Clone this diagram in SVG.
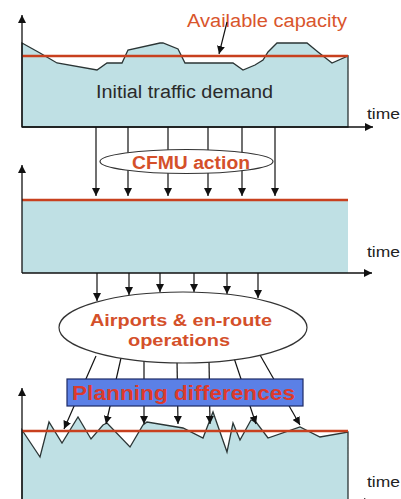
<svg xmlns="http://www.w3.org/2000/svg" width="401" height="499" viewBox="0 0 401 499">
<style>
.fill{fill:#bfe0e4}
.axis{stroke:#111;stroke-width:1.3;fill:none}
.cap{stroke:#c8401e;stroke-width:2.5}
.curve{stroke:#2b3535;stroke-width:1.3;fill:#bfe0e4;stroke-linejoin:miter}
.conn{stroke:#111;stroke-width:1.2;fill:none}
.lbl{font-family:"Liberation Sans",Arial,sans-serif}
.orange{fill:#d4502a;font-weight:bold}
.time{font-family:"Liberation Sans",Arial,sans-serif;font-size:15px;fill:#222}
</style>
<defs>
<marker id="ah" viewBox="0 0 10 10" refX="10" refY="5" markerWidth="8" markerHeight="8" markerUnits="userSpaceOnUse" orient="auto">
<path d="M0,0 L10,5 L0,10 Z" fill="#111"/>
</marker>
</defs>
<rect width="401" height="499" fill="#fff"/>

<g id="panel1">
<path class="curve" d="M22,43 L40,53 L57,63 L97,70 L107,63 L122,63 L128,50 L160,43 L163,43 L178,49 L185,63 L233,63 L243,70 L255,65 L263,60 L268,52 L277,43 L307,43 L318,52 L332,63 L348,56 L348,127 L22,127 Z"/>
<line class="cap" x1="22" y1="56" x2="348" y2="56"/>
<line class="axis" x1="22" y1="127" x2="22" y2="15" marker-end="url(#ah)"/>
<line class="axis" x1="22" y1="127" x2="373" y2="127" marker-end="url(#ah)"/>
<text class="lbl" x="96" y="98" font-size="18" fill="#2a2a2a" textLength="177" lengthAdjust="spacingAndGlyphs">Initial traffic demand</text>
<text class="lbl" x="187" y="27" font-size="18" fill="#d9552c" textLength="160" lengthAdjust="spacingAndGlyphs">Available capacity</text>
<text class="time" x="367" y="119" textLength="33" lengthAdjust="spacingAndGlyphs">time</text>
</g>

<g id="panel2">
<rect class="fill" x="22" y="200" width="326" height="73"/>
<line class="cap" x1="22" y1="200" x2="348" y2="200"/>
<line class="axis" x1="22" y1="273" x2="22" y2="165" marker-end="url(#ah)"/>
<line class="axis" x1="22" y1="273" x2="372" y2="273" marker-end="url(#ah)"/>
<text class="time" x="367" y="257" textLength="33" lengthAdjust="spacingAndGlyphs">time</text>
</g>

<g id="panel3">
<path class="curve" d="M22,430 L40,457 L49,422 L62,443 L78,417 L91,439 L103,425 L107,423 L130,447 L143,425 L147,422 L183,428 L203,438 L213,412 L227,452 L233,423 L240,440 L251,420 L256,422 L268,438 L300,427 L320,437 L348,432 L348,505 L22,505 Z"/>
<line class="cap" x1="22" y1="431" x2="348" y2="431"/>
<line class="axis" x1="22" y1="505" x2="22" y2="388" marker-end="url(#ah)"/>
<line class="axis" x1="22" y1="502" x2="372" y2="502" marker-end="url(#ah)"/>
<text class="time" x="367" y="487" textLength="33" lengthAdjust="spacingAndGlyphs">time</text>
</g>

<g id="connectors">
<line class="conn" x1="227" y1="22" x2="219" y2="54" marker-end="url(#ah)"/>
<line class="conn" x1="96" y1="127" x2="96" y2="196" marker-end="url(#ah)"/>
<line class="conn" x1="128" y1="127" x2="128" y2="196" marker-end="url(#ah)"/>
<line class="conn" x1="168" y1="127" x2="168" y2="196" marker-end="url(#ah)"/>
<line class="conn" x1="208" y1="127" x2="208" y2="196" marker-end="url(#ah)"/>
<line class="conn" x1="242" y1="127" x2="242" y2="196" marker-end="url(#ah)"/>
<line class="conn" x1="275" y1="127" x2="275" y2="196" marker-end="url(#ah)"/>
<line class="conn" x1="97" y1="273" x2="97" y2="301" marker-end="url(#ah)"/>
<line class="conn" x1="129" y1="273" x2="129" y2="295" marker-end="url(#ah)"/>
<line class="conn" x1="160" y1="273" x2="160" y2="292" marker-end="url(#ah)"/>
<line class="conn" x1="194" y1="273" x2="194" y2="292" marker-end="url(#ah)"/>
<line class="conn" x1="227" y1="273" x2="227" y2="294" marker-end="url(#ah)"/>
<line class="conn" x1="258" y1="273" x2="258" y2="298" marker-end="url(#ah)"/>
<line class="conn" x1="96" y1="356" x2="64" y2="429" marker-end="url(#ah)"/>
<line class="conn" x1="121" y1="358" x2="106" y2="424" marker-end="url(#ah)"/>
<line class="conn" x1="144" y1="360" x2="144" y2="424" marker-end="url(#ah)"/>
<line class="conn" x1="177" y1="360" x2="178" y2="424" marker-end="url(#ah)"/>
<line class="conn" x1="209" y1="360" x2="210" y2="424" marker-end="url(#ah)"/>
<line class="conn" x1="234" y1="358" x2="256" y2="424" marker-end="url(#ah)"/>
<line class="conn" x1="260" y1="355" x2="300" y2="425" marker-end="url(#ah)"/>
</g>

<g id="cfmu">
<ellipse cx="186.5" cy="161.5" rx="86.5" ry="12" fill="#fff" stroke="#333" stroke-width="1.2"/>
<text class="lbl orange" x="132" y="169" font-size="18" textLength="118" lengthAdjust="spacingAndGlyphs">CFMU action</text>
</g>

<g id="airports">
<ellipse cx="183" cy="327.5" rx="124" ry="35.5" fill="#fff" stroke="#333" stroke-width="1.2"/>
<text class="lbl orange" x="90" y="326" font-size="16" textLength="182" lengthAdjust="spacingAndGlyphs">Airports &amp; en-route</text>
<text class="lbl orange" x="128" y="346" font-size="16" textLength="102" lengthAdjust="spacingAndGlyphs">operations</text>
</g>

<g id="planning">
<rect x="67" y="379" width="236" height="27" fill="#5b80e6" stroke="#1d2a66" stroke-width="1.2"/>
<text class="lbl" x="72" y="400" font-size="20" font-weight="bold" fill="#dc3a2c" textLength="223" lengthAdjust="spacingAndGlyphs">Planning differences</text>
</g>
</svg>
